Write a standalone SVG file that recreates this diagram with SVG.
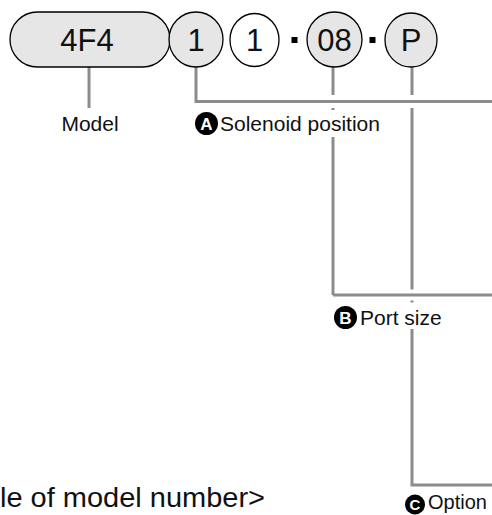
<svg xmlns="http://www.w3.org/2000/svg" width="492" height="515" viewBox="0 0 492 515">
<style>
.g{fill:#e6e6e6;stroke:#000;stroke-width:1.3}
.w{fill:#fff;stroke:#000;stroke-width:1.3}
.big{font-family:"Liberation Sans",Arial,sans-serif;font-size:31px;fill:#111;text-anchor:middle}
.lbl{font-family:"Liberation Sans",Arial,sans-serif;font-size:21px;fill:#111}
.ln{fill:none;stroke:#8c8c8c;stroke-width:3}
.halo{fill:none;stroke:#fff}
.badge{fill:#000}
.bl{font-family:"Liberation Sans",Arial,sans-serif;font-size:17px;font-weight:bold;fill:#fff;text-anchor:middle}
</style>
<rect width="492" height="515" fill="#fff"/>
<g id="connectors">
<path class="ln" d="M89 67V108"/>
<path class="ln" d="M412 67V485H492"/>
<path class="ln" d="M333 67V295"/>
<path class="halo" stroke-width="11" d="M340 295H492"/>
<path class="ln" d="M333 295H492"/>
<path class="halo" stroke-width="13" d="M205 101.5H492"/>
<path class="ln" d="M196 67V101.5H492"/>
</g>
<g id="model">
<rect class="g" x="10" y="12" width="160" height="55" rx="27.5"/>
<text class="big" x="87" y="51">4F4</text>
</g>
<g id="solenoid">
<ellipse class="g" cx="196" cy="39.5" rx="27" ry="27.5"/>
<text class="big" x="196" y="51">1</text>
</g>
<g id="digit2">
<ellipse class="w" cx="254.5" cy="40" rx="24.5" ry="26.5"/>
<text class="big" x="254.5" y="51">1</text>
</g>
<g id="sep1"><rect x="291.5" y="37" width="6" height="6" fill="#000"/></g>
<g id="port">
<ellipse class="g" cx="334.5" cy="39.5" rx="27.5" ry="27.5"/>
<text class="big" x="334.5" y="51">08</text>
</g>
<g id="sep2"><rect x="369.5" y="37" width="6" height="6" fill="#000"/></g>
<g id="option">
<ellipse class="g" cx="411" cy="40" rx="26" ry="27"/>
<text class="big" x="411" y="51">P</text>
</g>
<g id="label-model">
<text class="lbl" x="90" y="131" text-anchor="middle">Model</text>
</g>
<g id="label-a">
<rect x="193" y="110" width="190" height="27" fill="#fff"/>
<circle class="badge" cx="206.5" cy="123.5" r="11.5"/>
<text class="bl" x="206.5" y="129.5">A</text>
<text class="lbl" x="220" y="131">Solenoid position</text>
</g>
<g id="label-b">
<rect x="330" y="302.5" width="115" height="26.5" fill="#fff"/>
<circle class="badge" cx="345.5" cy="317.5" r="11.5"/>
<text class="bl" x="345.5" y="323.5">B</text>
<text class="lbl" x="360" y="325">Port size</text>
</g>
<g id="label-c">
<circle class="badge" cx="415" cy="504.5" r="10"/>
<text class="bl" x="415" y="510" style="font-size:15px">C</text>
<text class="lbl" x="428" y="509" style="font-size:20px">Option</text>
</g>
<text class="lbl" x="0" y="507" style="font-size:28px" textLength="265" lengthAdjust="spacingAndGlyphs">le of model number&gt;</text>
</svg>
